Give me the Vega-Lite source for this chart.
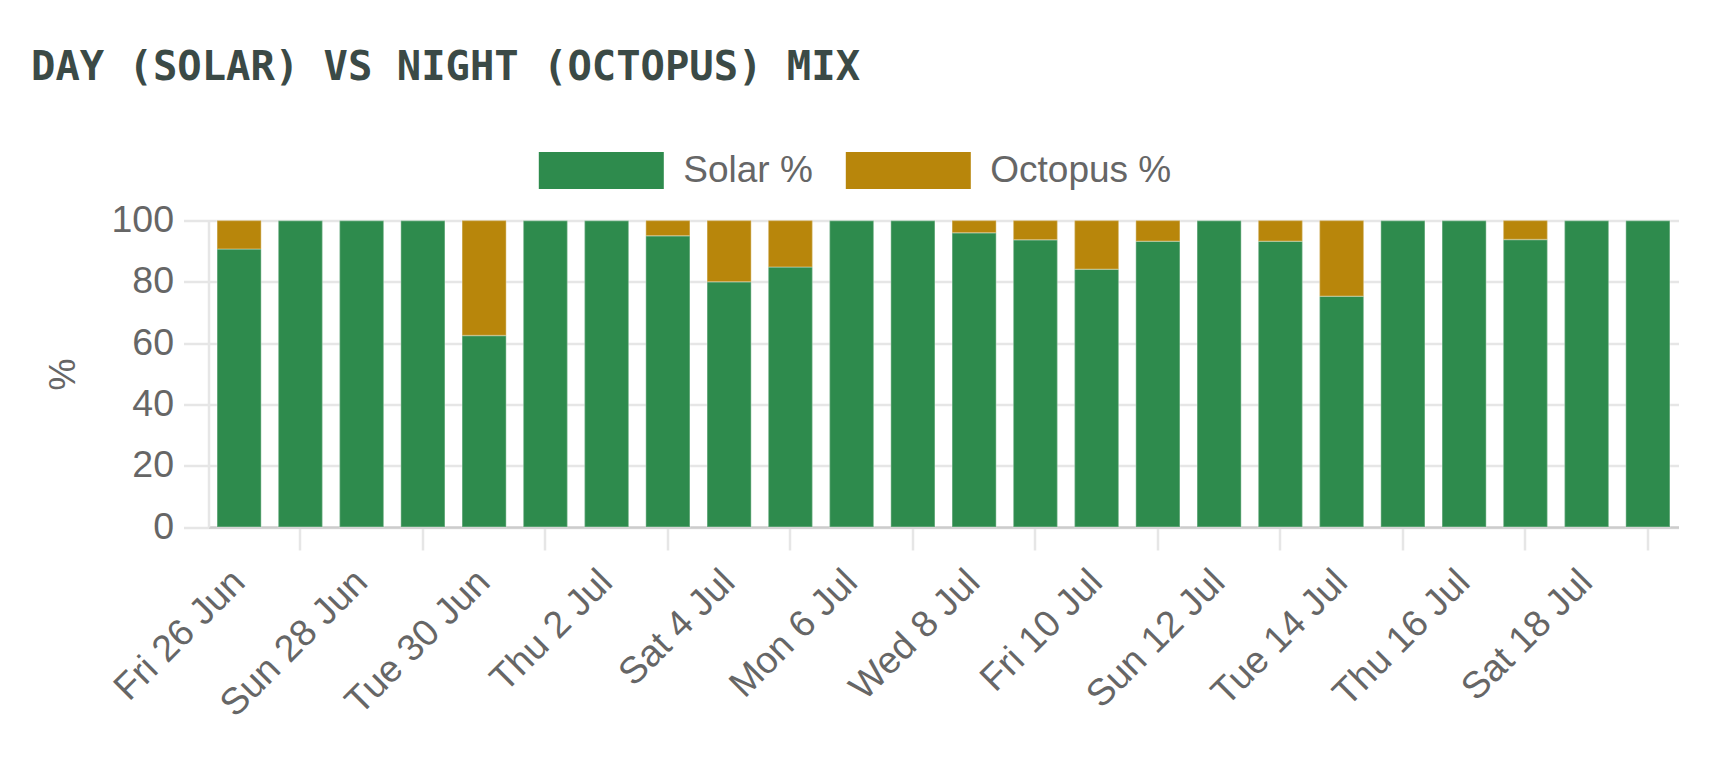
{
  "$schema": "https://vega.github.io/schema/vega-lite/v6.json",
  "autosize": {"type": "none"},
  "width": 1470,
  "height": 306.5,
  "padding": {"left": 208.5, "top": 220.5, "right": 38.5, "bottom": 253},
  "background": "#ffffff",
  "title": {
    "text": "DAY (SOLAR) VS NIGHT (OCTOPUS) MIX",
    "anchor": "start",
    "frame": "group",
    "font": "DejaVu Sans Mono",
    "fontSize": 40.5,
    "fontWeight": "bold",
    "color": "#3b4a46",
    "dx": -177.5,
    "dy": 16.5,
    "baseline": "alphabetic"
  },
  "config": {
    "view": {"stroke": null},
    "axis": {"labelFont": "Liberation Sans", "titleFont": "Liberation Sans"}
  },
  "data": {
    "values": [
      {"day": "Fri 26 Jun", "series": "Solar %", "pct": 90.7},
      {"day": "Fri 26 Jun", "series": "Octopus %", "pct": 9.3},
      {"day": "Sat 27 Jun", "series": "Solar %", "pct": 100},
      {"day": "Sat 27 Jun", "series": "Octopus %", "pct": 0},
      {"day": "Sun 28 Jun", "series": "Solar %", "pct": 100},
      {"day": "Sun 28 Jun", "series": "Octopus %", "pct": 0},
      {"day": "Mon 29 Jun", "series": "Solar %", "pct": 100},
      {"day": "Mon 29 Jun", "series": "Octopus %", "pct": 0},
      {"day": "Tue 30 Jun", "series": "Solar %", "pct": 62.5},
      {"day": "Tue 30 Jun", "series": "Octopus %", "pct": 37.5},
      {"day": "Wed 1 Jul", "series": "Solar %", "pct": 100},
      {"day": "Wed 1 Jul", "series": "Octopus %", "pct": 0},
      {"day": "Thu 2 Jul", "series": "Solar %", "pct": 100},
      {"day": "Thu 2 Jul", "series": "Octopus %", "pct": 0},
      {"day": "Fri 3 Jul", "series": "Solar %", "pct": 95.0},
      {"day": "Fri 3 Jul", "series": "Octopus %", "pct": 5.0},
      {"day": "Sat 4 Jul", "series": "Solar %", "pct": 80.0},
      {"day": "Sat 4 Jul", "series": "Octopus %", "pct": 20.0},
      {"day": "Sun 5 Jul", "series": "Solar %", "pct": 84.8},
      {"day": "Sun 5 Jul", "series": "Octopus %", "pct": 15.2},
      {"day": "Mon 6 Jul", "series": "Solar %", "pct": 100},
      {"day": "Mon 6 Jul", "series": "Octopus %", "pct": 0},
      {"day": "Tue 7 Jul", "series": "Solar %", "pct": 100},
      {"day": "Tue 7 Jul", "series": "Octopus %", "pct": 0},
      {"day": "Wed 8 Jul", "series": "Solar %", "pct": 96.0},
      {"day": "Wed 8 Jul", "series": "Octopus %", "pct": 4.0},
      {"day": "Thu 9 Jul", "series": "Solar %", "pct": 93.7},
      {"day": "Thu 9 Jul", "series": "Octopus %", "pct": 6.3},
      {"day": "Fri 10 Jul", "series": "Solar %", "pct": 84.1},
      {"day": "Fri 10 Jul", "series": "Octopus %", "pct": 15.9},
      {"day": "Sat 11 Jul", "series": "Solar %", "pct": 93.2},
      {"day": "Sat 11 Jul", "series": "Octopus %", "pct": 6.8},
      {"day": "Sun 12 Jul", "series": "Solar %", "pct": 100},
      {"day": "Sun 12 Jul", "series": "Octopus %", "pct": 0},
      {"day": "Mon 13 Jul", "series": "Solar %", "pct": 93.2},
      {"day": "Mon 13 Jul", "series": "Octopus %", "pct": 6.8},
      {"day": "Tue 14 Jul", "series": "Solar %", "pct": 75.3},
      {"day": "Tue 14 Jul", "series": "Octopus %", "pct": 24.7},
      {"day": "Wed 15 Jul", "series": "Solar %", "pct": 100},
      {"day": "Wed 15 Jul", "series": "Octopus %", "pct": 0},
      {"day": "Thu 16 Jul", "series": "Solar %", "pct": 100},
      {"day": "Thu 16 Jul", "series": "Octopus %", "pct": 0},
      {"day": "Fri 17 Jul", "series": "Solar %", "pct": 93.8},
      {"day": "Fri 17 Jul", "series": "Octopus %", "pct": 6.2},
      {"day": "Sat 18 Jul", "series": "Solar %", "pct": 100},
      {"day": "Sat 18 Jul", "series": "Octopus %", "pct": 0},
      {"day": "Sun 19 Jul", "series": "Solar %", "pct": 100},
      {"day": "Sun 19 Jul", "series": "Octopus %", "pct": 0}
    ]
  },
  "mark": {"type": "bar", "stroke": "#ffffff", "strokeOpacity": 0.25, "strokeWidth": 1.5},
  "encoding": {
    "x": {
      "field": "day",
      "type": "nominal",
      "sort": null,
      "scale": {"paddingInner": 0.28, "paddingOuter": 0.14},
      "axis": {
        "title": null,
        "grid": false,
        "domain": true,
        "domainColor": "#cccccc",
        "domainWidth": 2.5,
        "ticks": true,
        "tickColor": "#e6e6e6",
        "tickWidth": 2.5,
        "tickSize": 23,
        "tickOpacity": {
          "condition": {
            "test": "indexof(['Fri 26 Jun','Sun 28 Jun','Tue 30 Jun','Thu 2 Jul','Sat 4 Jul','Mon 6 Jul','Wed 8 Jul','Fri 10 Jul','Sun 12 Jul','Tue 14 Jul','Thu 16 Jul','Sat 18 Jul'], datum.value) < 0",
            "value": 1
          },
          "value": 0
        },
        "labelExpr": "indexof(['Fri 26 Jun','Sun 28 Jun','Tue 30 Jun','Thu 2 Jul','Sat 4 Jul','Mon 6 Jul','Wed 8 Jul','Fri 10 Jul','Sun 12 Jul','Tue 14 Jul','Thu 16 Jul','Sat 18 Jul'], datum.value) >= 0 ? datum.label : ''",
        "labelAngle": -45,
        "labelAlign": "right",
        "labelBaseline": "middle",
        "labelFontSize": 37.5,
        "labelColor": "#666666",
        "labelPadding": 26,
        "labelOverlap": false,
        "labelBound": false,
        "labelFlush": false,
        "labelLimit": 500
      }
    },
    "y": {
      "field": "pct",
      "type": "quantitative",
      "stack": "zero",
      "scale": {"domain": [0, 100], "nice": false, "zero": true},
      "axis": {
        "values": [0, 20, 40, 60, 80, 100],
        "grid": true,
        "gridColor": "#e6e6e6",
        "gridWidth": 2.5,
        "domain": true,
        "domainColor": "#e6e6e6",
        "domainWidth": 2.5,
        "ticks": true,
        "tickColor": "#e6e6e6",
        "tickWidth": 2.5,
        "tickSize": 25,
        "labelFontSize": 37.5,
        "labelColor": "#666666",
        "labelPadding": 10,
        "title": "%",
        "titleFontSize": 36,
        "titleFontWeight": "normal",
        "titleColor": "#666666",
        "titleAngle": -90,
        "titleAlign": "center",
        "titleBaseline": "middle",
        "titleX": -145.5,
        "titleY": 153.5
      }
    },
    "color": {
      "field": "series",
      "type": "nominal",
      "scale": {"domain": ["Solar %", "Octopus %"], "range": ["#2e8b4d", "#b8860b"]},
      "legend": {
        "title": null,
        "orient": "none",
        "direction": "horizontal",
        "legendX": 330.3,
        "legendY": -112.5,
        "padding": 0,
        "symbolType": "M-1,-0.296H1V0.296H-1Z",
        "symbolSize": 15625,
        "symbolStrokeWidth": 0,
        "symbolOpacity": 1,
        "labelFont": "Liberation Sans",
        "labelFontSize": 37,
        "labelColor": "#666666",
        "labelOffset": 19.5,
        "labelLimit": 500,
        "columnPadding": 32
      }
    },
    "order": {"field": "series", "sort": "descending"}
  }
}
